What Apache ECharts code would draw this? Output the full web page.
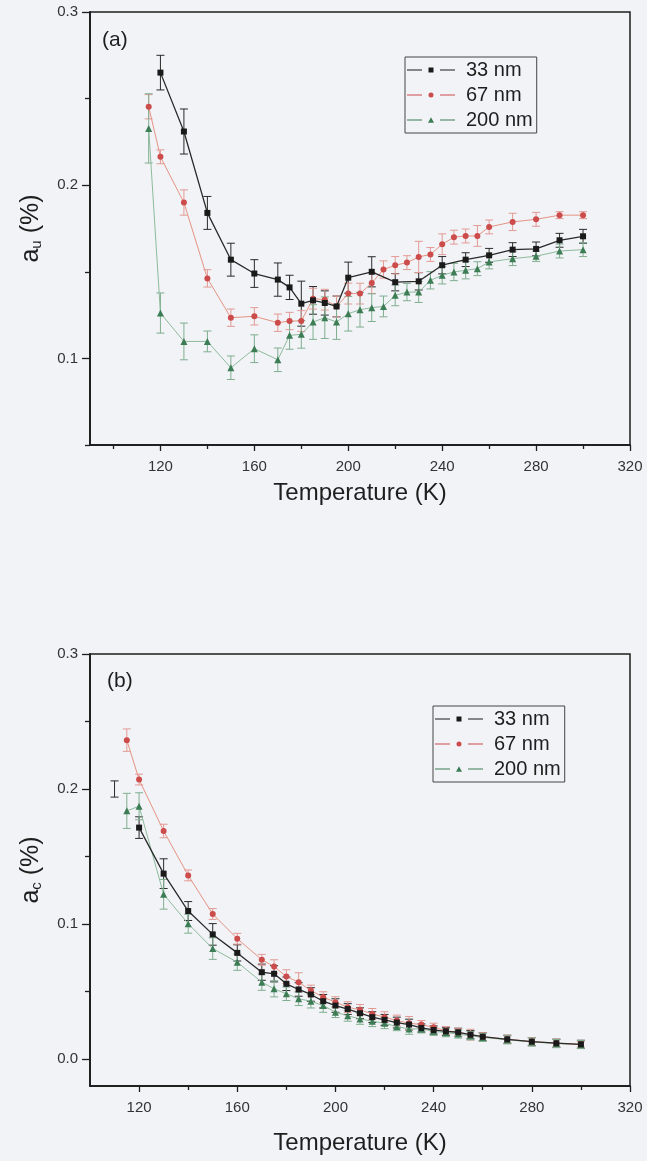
<!DOCTYPE html>
<html>
<head>
<meta charset="utf-8">
<script src="https://cdn.jsdelivr.net/npm/echarts@6/dist/echarts.min.js"></script>
<style>
  html, body { margin: 0; padding: 0; background: #f2f3f7; }
  #chart { width: 647px; height: 1161px; }
</style>
</head>
<body>
<div id="chart"></div>
<script>
// panel (a): a_u (%) vs temperature
const tA33 = [120,130,140,150,160,170,175,180,185,190,195,200,210,220,230,240,250,260,270,280,290,300];
const a33 = [0.265,0.231,0.184,0.157,0.149,0.1455,0.141,0.1316,0.1335,0.132,0.130,0.1466,0.150,0.144,0.1445,0.1538,0.157,0.1595,0.1628,0.1632,0.1682,0.1705];
const a33err = [0.010,0.013,0.0095,0.0095,0.008,0.0096,0.007,0.013,0.008,0.007,0.006,0.009,0.0087,0.005,0.005,0.005,0.004,0.004,0.004,0.004,0.004,0.004];

const tA = [115,120,130,140,150,160,170,175,180,185,190,195,200,205,210,215,220,225,230,235,240,245,250,255,260,270,280,290,300];
const a67 = [0.2453,0.2164,0.190,0.1462,0.1235,0.1243,0.1206,0.1216,0.1216,0.1345,0.1339,0.130,0.1374,0.1374,0.1435,0.1513,0.1538,0.1553,0.1586,0.160,0.1659,0.170,0.1707,0.1707,0.1759,0.1788,0.1803,0.1827,0.1827];
const a67err = [0.007,0.004,0.0073,0.005,0.005,0.005,0.005,0.005,0.006,0.006,0.006,0.006,0.006,0.006,0.006,0.005,0.005,0.004,0.009,0.004,0.006,0.004,0.004,0.006,0.004,0.005,0.004,0.002,0.002];
const a200 = [0.2328,0.1262,0.1098,0.1098,0.0946,0.1056,0.0992,0.1133,0.1139,0.121,0.1235,0.121,0.1258,0.1281,0.1293,0.130,0.1364,0.1383,0.1383,0.1451,0.148,0.1499,0.1509,0.1518,0.1557,0.1576,0.159,0.162,0.1628];
const a200err = [0.02,0.0116,0.0106,0.006,0.0068,0.008,0.0068,0.008,0.008,0.01,0.012,0.01,0.01,0.01,0.008,0.006,0.006,0.005,0.006,0.005,0.005,0.005,0.005,0.004,0.004,0.004,0.003,0.004,0.004];

// panel (b): a_c (%) vs temperature
const tB33 = [120,130,140,150,160,170,175,180,185,190,195,200,205,210,215,220,225,230,235,240,245,250,255,260,270,280,290,300];
const b33 = [0.1714,0.1373,0.1096,0.0923,0.0786,0.0643,0.0631,0.0557,0.0515,0.0478,0.0428,0.0396,0.037,0.0339,0.031,0.029,0.027,0.0255,0.023,0.0215,0.0205,0.0198,0.018,0.0165,0.0146,0.0129,0.0117,0.0109];
const b33err = [0.008,0.011,0.007,0.008,0.006,0.006,0.006,0.005,0.005,0.005,0.005,0.005,0.004,0.004,0.004,0.004,0.004,0.004,0.003,0.003,0.003,0.003,0.003,0.003,0.003,0.003,0.003,0.003];
// lone error bar at 110 K with no marker
const strayT = 110, strayV = 0.200, strayErr = 0.006;

const tB = [115,120,130,140,150,160,170,175,180,185,190,195,200,205,210,215,220,225,230,235,240,245,250,255,260,270,280,290,300];
const b67 = [0.2362,0.207,0.1689,0.136,0.1074,0.0891,0.0735,0.0685,0.0611,0.0569,0.0507,0.0458,0.0421,0.0384,0.0364,0.0334,0.031,0.0285,0.0265,0.0255,0.0235,0.021,0.0198,0.018,0.0165,0.0146,0.0129,0.0117,0.0109];
const b67err = [0.0083,0.004,0.005,0.004,0.004,0.004,0.004,0.005,0.005,0.007,0.004,0.004,0.004,0.004,0.004,0.004,0.004,0.004,0.005,0.003,0.003,0.003,0.003,0.004,0.003,0.003,0.003,0.003,0.002];
const b200 = [0.1838,0.1872,0.122,0.1002,0.0818,0.0717,0.0569,0.052,0.0483,0.0446,0.0428,0.0396,0.0347,0.032,0.0297,0.028,0.0265,0.024,0.0223,0.0223,0.0205,0.0195,0.0185,0.0172,0.016,0.0142,0.0126,0.0114,0.0107];
const b200err = [0.013,0.01,0.011,0.007,0.008,0.006,0.006,0.006,0.005,0.005,0.005,0.005,0.004,0.004,0.004,0.004,0.004,0.003,0.004,0.003,0.003,0.003,0.003,0.003,0.003,0.003,0.003,0.003,0.003];

const names = ['33 nm', '67 nm', '200 nm'];
const xMajor = [120,160,200,240,280,320];
const xMinorA = [100,140,180,220,260,300];
const xMinorB = [140,180,220,260,300];

const FONT = 'Liberation Sans, Arial, sans-serif';
const INK = '#1e1e1e';
const styles = [
  { symbol: 'rect', marker: '#1a1a1a', line: '#2a2a2a', bar: '#2a2a2a' },
  { symbol: 'circle', marker: '#cc4b4b', line: '#e59383', bar: '#e29a94' },
  { symbol: 'triangle', marker: '#3d7d55', line: '#8dbb9c', bar: '#7fae8f' }
];
// legend keys: short line, gap, marker, gap, short line
const legendIcons = [
  'path://M0,3h15v1H0z M21.5,1h5v5h-5z M33,3h15v1H33z',
  'path://M0,3h15v1H0z M21.5,3.5a2.5,2.5 0 1,0 5,0a2.5,2.5 0 1,0 -5,0z M33,3h15v1H33z',
  'path://M0,3h15v1H0z M24,0.8L27,6.2L21,6.2z M33,3h15v1H33z'
];

const pairs = (t, v) => t.map((x, i) => [x, v[i]]);
const triples = (t, v, e) => t.map((x, i) => [x, v[i], e[i]]);

function errBars(color) {
  return function (params, api) {
    const x = api.value(0), y = api.value(1), e = api.value(2);
    const top = api.coord([x, y + e]);
    const bot = api.coord([x, y - e]);
    const w = 4;
    const st = { stroke: color, lineWidth: 1 };
    return {
      type: 'group',
      children: [
        { type: 'line', shape: { x1: top[0], y1: top[1], x2: bot[0], y2: bot[1] }, style: st },
        { type: 'line', shape: { x1: top[0] - w, y1: top[1], x2: top[0] + w, y2: top[1] }, style: st },
        { type: 'line', shape: { x1: bot[0] - w, y1: bot[1], x2: bot[0] + w, y2: bot[1] }, style: st }
      ]
    };
  };
}

function lineSeries(i, data, axisIdx) {
  const s = styles[i];
  return {
    type: 'line', name: names[i], data: data,
    xAxisIndex: axisIdx, yAxisIndex: axisIdx,
    symbol: s.symbol, symbolSize: s.symbol === 'triangle' ? 7 : 6,
    showSymbol: true, animation: false, z: 5 - i,
    itemStyle: { color: s.marker },
    lineStyle: { color: s.line, width: i === 0 ? 1.3 : 1 }
  };
}

function barSeries(i, data, axisIdx) {
  return {
    type: 'custom', data: data, xAxisIndex: axisIdx, yAxisIndex: axisIdx,
    renderItem: errBars(styles[i].bar), encode: { x: 0, y: 1 },
    animation: false, silent: true, z: 2
  };
}

function xAxes(grid, min, minor, gap) {
  const base = {
    type: 'value', gridIndex: grid, min: min, max: 320, position: 'bottom',
    axisLine: { show: true, onZero: false, lineStyle: { color: INK, width: 1.5 } },
    splitLine: { show: false }
  };
  return [
    Object.assign({}, base, {
      name: 'Temperature (K)', nameLocation: 'middle', nameGap: gap,
      nameTextStyle: { fontSize: 24, color: INK, fontFamily: FONT },
      axisTick: { show: true, length: 6, customValues: xMajor, lineStyle: { color: INK, width: 1.3 } },
      axisLabel: { customValues: xMajor, margin: 14, fontSize: 15, color: '#333', fontFamily: FONT }
    }),
    Object.assign({}, base, {
      axisTick: { show: true, length: 4, customValues: minor, lineStyle: { color: INK, width: 1.3 } },
      axisLabel: { show: false }
    })
  ];
}

function yAxes(grid, min, major, minor, sub) {
  const base = {
    type: 'value', gridIndex: grid, min: min, max: 0.3, position: 'left',
    axisLine: { show: true, onZero: false, lineStyle: { color: INK, width: 1.5 } },
    splitLine: { show: false }
  };
  return [
    Object.assign({}, base, {
      name: '{i|a}{s|' + sub + '}{i| (%)}', nameLocation: 'middle', nameGap: 46, nameRotate: 90,
      nameTextStyle: {
        color: INK, fontFamily: FONT,
        rich: {
          i: { fontSize: 25, fontFamily: FONT, color: INK, verticalAlign: 'bottom', lineHeight: 30 },
          s: { fontSize: 15, fontFamily: FONT, color: INK, verticalAlign: 'bottom', lineHeight: 20 }
        }
      },
      axisTick: { show: true, length: 8, customValues: major, lineStyle: { color: INK, width: 1.3 } },
      axisLabel: { customValues: major, margin: 12, fontSize: 15, color: '#333', fontFamily: FONT,
        formatter: v => v.toFixed(1) }
    }),
    Object.assign({}, base, {
      axisTick: { show: true, length: 5, customValues: minor, lineStyle: { color: INK, width: 1.3 } },
      axisLabel: { show: false }
    })
  ];
}

function legendAt(left, top) {
  return {
    left: left, top: top, orient: 'vertical', selectedMode: false,
    data: names.map((n, i) => ({ name: n, icon: legendIcons[i] })),
    itemWidth: 48, itemHeight: 7, itemGap: 5,
    itemStyle: { borderWidth: 0 },
    borderColor: '#444', borderWidth: 1, padding: [3, 4, 3, 2],
    textStyle: { fontSize: 20, color: INK, fontFamily: FONT, lineHeight: 20, padding: [0, 0, 0, 6] }
  };
}

const chart = echarts.init(document.getElementById('chart'), null, { renderer: 'canvas' });
chart.setOption({
  backgroundColor: '#f2f3f7',
  animation: false,
  grid: [
    { left: 90, top: 12, width: 540, height: 433, show: true, borderColor: INK, borderWidth: 1.5 },
    { left: 90, top: 654, width: 540, height: 432, show: true, borderColor: INK, borderWidth: 1.5 }
  ],
  xAxis: [].concat(xAxes(0, 90, xMinorA, 36), xAxes(1, 100, xMinorB, 45)),
  yAxis: [].concat(
    yAxes(0, 0.05, [0.1, 0.2, 0.3], [0.05, 0.15, 0.25], 'u'),
    yAxes(1, -0.02, [0.0, 0.1, 0.2, 0.3], [0.05, 0.15, 0.25], 'c')
  ),
  legend: [legendAt(405, 57), legendAt(433, 706)],
  graphic: [
    { type: 'text', left: 102, top: 30, style: { text: '(a)', fontSize: 21, fill: INK, fontFamily: FONT } },
    { type: 'text', left: 107, top: 671, style: { text: '(b)', fontSize: 21, fill: INK, fontFamily: FONT } }
  ],
  series: [
    lineSeries(0, pairs(tA33, a33), 0),
    lineSeries(1, pairs(tA, a67), 0),
    lineSeries(2, pairs(tA, a200), 0),
    barSeries(0, triples(tA33, a33, a33err), 0),
    barSeries(1, triples(tA, a67, a67err), 0),
    barSeries(2, triples(tA, a200, a200err), 0),
    lineSeries(0, pairs(tB33, b33), 2),
    lineSeries(1, pairs(tB, b67), 2),
    lineSeries(2, pairs(tB, b200), 2),
    barSeries(0, [[strayT, strayV, strayErr]].concat(triples(tB33, b33, b33err)), 2),
    barSeries(1, triples(tB, b67, b67err), 2),
    barSeries(2, triples(tB, b200, b200err), 2)
  ]
});
</script>
</body>
</html>
